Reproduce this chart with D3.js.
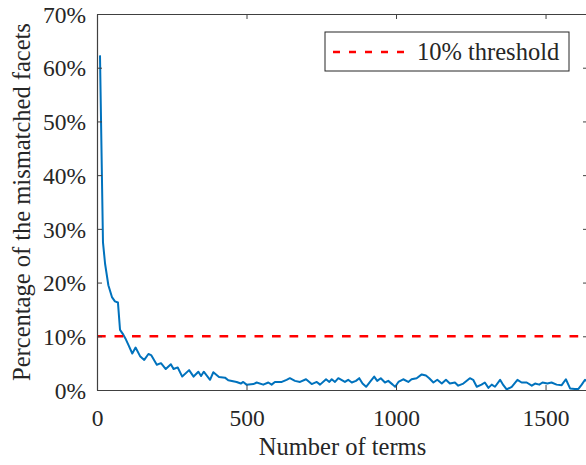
<!DOCTYPE html>
<html>
<head>
<meta charset="utf-8">
<script src="https://cdn.jsdelivr.net/npm/d3@7"></script>
<style>
  html, body { margin: 0; padding: 0; background: #fff; }
  svg { display: block; }
  text { font-family: "Liberation Serif", "Times New Roman", serif; fill: #262626; }
</style>
</head>
<body>
<svg id="chart" width="586" height="465"></svg>
<script>
// ---- data ----
const terms = [10,20,27,38,50,60,70,77,88,95,105,118,129,144,158,172,181,200,214,230,247,256,270,285,308,323,339,348,357,378,389,408,428,439,467,481,489,500,523,534,556,573,584,595,618,634,645,662,679,699,718,735,746,766,777,785,796,807,829,840,852,866,877,888,900,913,927,937,949,963,974,989,997,1008,1024,1041,1052,1069,1086,1100,1111,1125,1138,1153,1167,1180,1197,1208,1225,1247,1258,1270,1286,1297,1309,1320,1331,1348,1359,1370,1387,1406,1420,1437,1454,1465,1479,1490,1506,1520,1537,1554,1568,1582,1598,1610,1621,1632,1645];
const mismatch = [62.3,27.5,23.5,19.5,17.3,16.5,16.3,11.2,10.3,9.6,8.4,6.8,7.9,6.3,5.6,6.7,6.5,4.7,5.0,3.9,4.8,3.9,4.2,2.5,3.7,2.5,3.4,2.6,3.4,1.9,3.3,2.4,2.3,1.8,1.5,1.2,1.5,1.0,1.1,1.4,1.0,1.4,1.0,1.5,1.5,1.9,2.2,1.7,1.5,2.0,1.1,1.5,1.0,2.0,1.5,2.0,1.5,2.2,1.5,1.9,1.4,1.7,2.2,1.2,0.6,1.5,2.5,1.7,2.2,1.4,1.7,1.0,0.6,1.5,2.0,1.5,2.0,2.2,2.9,2.7,2.2,1.4,1.9,1.2,1.9,1.2,1.4,0.8,1.2,2.2,1.9,0.6,1.0,1.4,0.4,1.0,0.6,1.9,0.9,0.1,0.6,1.9,1.4,1.4,0.8,1.2,1.0,1.4,1.2,1.4,1.0,0.9,2.0,0.3,0.2,0.2,1.0,1.9,1.5];
const threshold = 10;
const xTicks = [0, 500, 1000, 1500];
const yTicks = [0, 10, 20, 30, 40, 50, 60, 70];
const xLabel = "Number of terms";
const yLabel = "Percentage of the mismatched facets";
const legendLabel = "10% threshold";

// ---- layout ----
const svg = d3.select("#chart");
const L = 97, T = 14, R = 588, B = 390;
const x = d3.scaleLinear().domain([0, 1642]).range([L, R]);
const y = d3.scaleLinear().domain([0, 70]).range([B, T]);
const axisColor = "#404040";

svg.append("defs").append("clipPath").attr("id", "clip")
  .append("rect").attr("x", L).attr("y", T).attr("width", R - L).attr("height", B - T);

// data line
const line = d3.line().x((d, i) => x(terms[i])).y(d => y(d));
svg.append("path")
  .datum(mismatch)
  .attr("clip-path", "url(#clip)")
  .attr("d", line)
  .attr("fill", "none")
  .attr("stroke", "#0072BD")
  .attr("stroke-width", 2)
  .attr("stroke-linejoin", "round");

// threshold line
svg.append("line")
  .attr("x1", L).attr("x2", R)
  .attr("y1", y(threshold)).attr("y2", y(threshold))
  .attr("stroke", "#FF0000").attr("stroke-width", 2.5)
  .attr("stroke-dasharray", "8.7,8.8");

// axes (MATLAB style: ticks inside, box)
const fmtPct = d => d + "%";
const fmtNum = d => String(d);
const gx = svg.append("g").attr("transform", `translate(0,${B})`)
  .call(d3.axisBottom(x).tickValues(xTicks).tickFormat(fmtNum).tickSizeInner(-5).tickSizeOuter(0).tickPadding(15));
const gy = svg.append("g").attr("transform", `translate(${L},0)`)
  .call(d3.axisLeft(y).tickValues(yTicks).tickFormat(fmtPct).tickSizeInner(-5).tickSizeOuter(0).tickPadding(11));
const gxt = svg.append("g").attr("transform", `translate(0,${T})`)
  .call(d3.axisTop(x).tickValues(xTicks).tickSizeInner(-5).tickSizeOuter(0).tickFormat(""));
const gyr = svg.append("g").attr("transform", `translate(${R},0)`)
  .call(d3.axisRight(y).tickValues(yTicks).tickSizeInner(-5).tickSizeOuter(0).tickFormat(""));

[gx, gy, gxt, gyr].forEach(g => {
  g.select(".domain").attr("stroke", axisColor).attr("stroke-width", 1.2);
  g.selectAll(".tick line").attr("stroke", axisColor).attr("stroke-width", 1);
  g.selectAll(".tick text").attr("font-family", "Liberation Serif, serif")
    .attr("font-size", 23.5).attr("fill", "#262626");
});
gx.selectAll(".tick text").attr("dy", "0.9em");
gy.selectAll(".tick text").attr("dy", "0.35em");

// axis labels
svg.append("text")
  .attr("x", (L + R) / 2).attr("y", 455)
  .attr("text-anchor", "middle")
  .attr("font-size", 24.5)
  .text(xLabel);
svg.append("text")
  .attr("transform", `translate(30,${(T + B) / 2}) rotate(-90)`)
  .attr("text-anchor", "middle")
  .attr("font-size", 24.5)
  .text(yLabel);

// legend
const lg = svg.append("g");
lg.append("rect").attr("x", 325).attr("y", 32).attr("width", 244).attr("height", 39)
  .attr("fill", "#fff").attr("stroke", "#262626").attr("stroke-width", 1);
lg.append("line").attr("x1", 333).attr("x2", 409).attr("y1", 52).attr("y2", 52)
  .attr("stroke", "#FF0000").attr("stroke-width", 2.5).attr("stroke-dasharray", "7,9");
lg.append("text").attr("x", 417).attr("y", 60).attr("font-size", 24.5).text(legendLabel);
</script>
</body>
</html>
